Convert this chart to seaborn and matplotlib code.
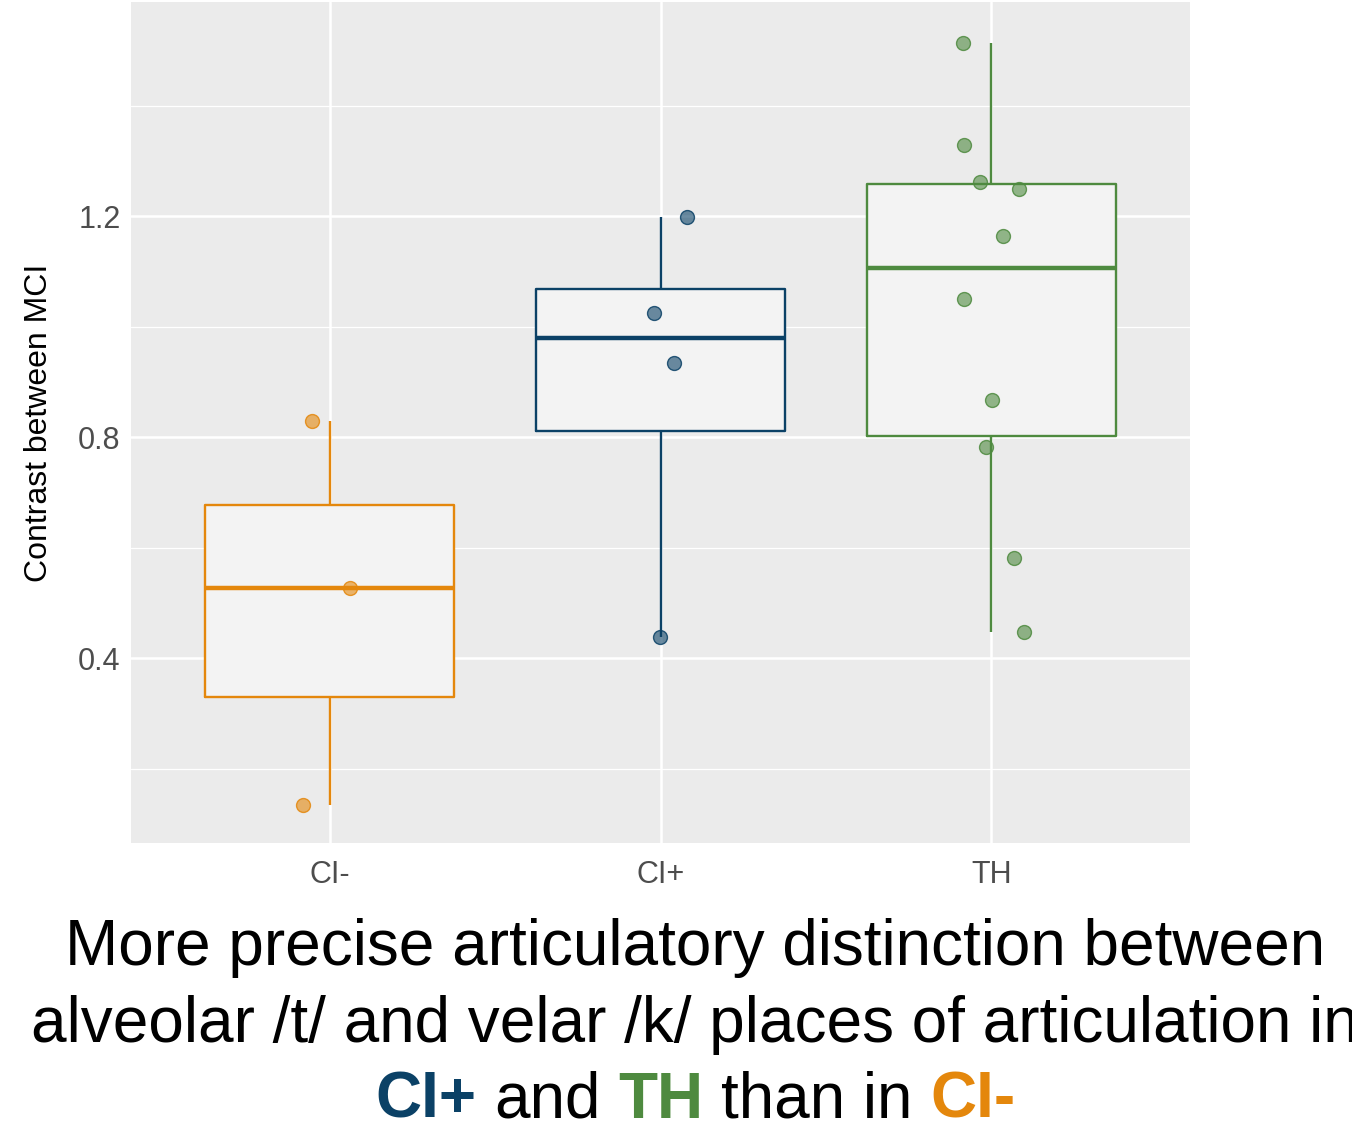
import numpy as np
import pandas as pd
import seaborn as sns
import matplotlib.pyplot as plt
from matplotlib.ticker import MultipleLocator
from matplotlib.colors import to_rgba


GROUPS      = ["CI-", "CI+", "TH"]
COLORS      = ["#E4870C", "#0B4166", "#4E8A3F"]

CI_MINUS    = [0.829, 0.527, 0.134]
CI_PLUS     = [1.198, 1.026, 0.935, 0.438]
TH          = [1.514, 1.330, 1.263, 1.249, 1.164, 1.051, 0.867, 0.782, 0.581, 0.447]

# horizontal jitter of each point (category units)
JIT_MINUS   = [-0.052, 0.061, -0.079]
JIT_PLUS    = [0.079, -0.021, 0.042, -0.003]
JIT_TH      = [-0.085, -0.082, -0.036, 0.082, 0.036, -0.082, 0.003, -0.015, 0.067, 0.097]

Y_LABEL     = "Contrast between MCI"
TITLE_1     = "More precise articulatory distinction between"
TITLE_2     = "alveolar /t/ and velar /k/ places of articulation in"
TITLE_SIZE  = 46


values = [CI_MINUS, CI_PLUS, TH]
jitters = [JIT_MINUS, JIT_PLUS, JIT_TH]
df = pd.concat([pd.DataFrame({"group": g, "contrast": v, "jit": j})
                for g, v, j in zip(GROUPS, values, jitters)], ignore_index=True)
df["xpos"] = df["group"].map({g: i for i, g in enumerate(GROUPS)}) + df["jit"]


sns.set_theme(style="darkgrid", rc={
    "axes.facecolor": "#EBEBEB",
    "grid.color": "white",
    "figure.facecolor": "white",
    "text.color": "black",
})
plt.rcParams["font.family"] = ["Liberation Sans", "DejaVu Sans"]

fig = plt.figure(figsize=(13.52, 11.46), dpi=100)
ax = fig.add_axes([131 / 1352, 1 - 843 / 1146, (1190 - 131) / 1352, (843 - 2) / 1146])

'''
Box fill first, then coloured outlines on top
'''
sns.boxplot(data=df, x="group", y="contrast", order=GROUPS, color="#F3F3F3",
            saturation=1, width=0.75, linewidth=0, showfliers=False,
            showcaps=False, ax=ax)
sns.boxplot(data=df, x="group", y="contrast", hue="group", order=GROUPS,
            hue_order=GROUPS, palette=COLORS, saturation=1, fill=False,
            width=0.75, linewidth=1.7, showfliers=False, showcaps=False,
            legend=False, medianprops={"linewidth": 3.2}, ax=ax)

for g, c in zip(GROUPS, COLORS):
    sub = df[df["group"] == g]
    sns.scatterplot(x=sub["xpos"], y=sub["contrast"], s=100,
                    color=to_rgba(c, 0.6), edgecolor=to_rgba(c, 0.85),
                    linewidth=1.0, ax=ax, zorder=5, legend=False)

ax.set_xlim(-0.6, 2.6)
ax.set_ylim(0.066, 1.588)
ax.set_xticks(range(len(GROUPS)))
ax.set_xticklabels(GROUPS)
ax.yaxis.set_major_locator(MultipleLocator(0.4))
ax.yaxis.set_minor_locator(MultipleLocator(0.2))
ax.grid(which="major", color="white", linewidth=1.8)
ax.grid(which="minor", axis="y", color="white", linewidth=0.9)
ax.grid(which="minor", axis="x", visible=False)
ax.set_axisbelow(True)
for s in ax.spines.values():
    s.set_visible(False)

ax.tick_params(axis="both", which="major", labelsize=22, labelcolor="#4D4D4D",
               length=3.5, width=1.0, color="#333333", pad=4)
ax.tick_params(axis="x", which="major", pad=9)
ax.tick_params(axis="both", which="minor", length=0)
ax.set_xlabel("")
ax.set_ylabel(Y_LABEL, fontsize=23, color="black", labelpad=17)


'''
Caption under the chart, last line has coloured bold words
'''
cx = 695 / 1352
fig.text(cx, 1 - 965 / 1146, TITLE_1, fontsize=TITLE_SIZE, color="black",
         ha="center", va="baseline")
fig.text(cx, 1 - 1042 / 1146, TITLE_2, fontsize=TITLE_SIZE, color="black",
         ha="center", va="baseline")

pieces = [("CI+", COLORS[1], "bold"), ("and", "black", "normal"),
          ("TH", COLORS[2], "bold"), ("than in", "black", "normal"),
          ("CI-", COLORS[0], "bold")]
renderer = fig.canvas.get_renderer()
y3 = 1 - 1118 / 1146
tmp = fig.text(0, 0, "x x", fontsize=TITLE_SIZE)
w_xx = tmp.get_window_extent(renderer).width
tmp.set_text("xx")
space = w_xx - tmp.get_window_extent(renderer).width
tmp.remove()

texts = [fig.text(0, y3, t, color=c, fontweight=w, fontsize=TITLE_SIZE, va="baseline")
         for t, c, w in pieces]
widths = [t.get_window_extent(renderer).width for t in texts]
total = sum(widths) + space * (len(texts) - 1)
x = cx * 1352 - total / 2
for t, w in zip(texts, widths):
    t.set_x(x / 1352)
    x += w + space

fig.savefig("out.png", dpi=100)
